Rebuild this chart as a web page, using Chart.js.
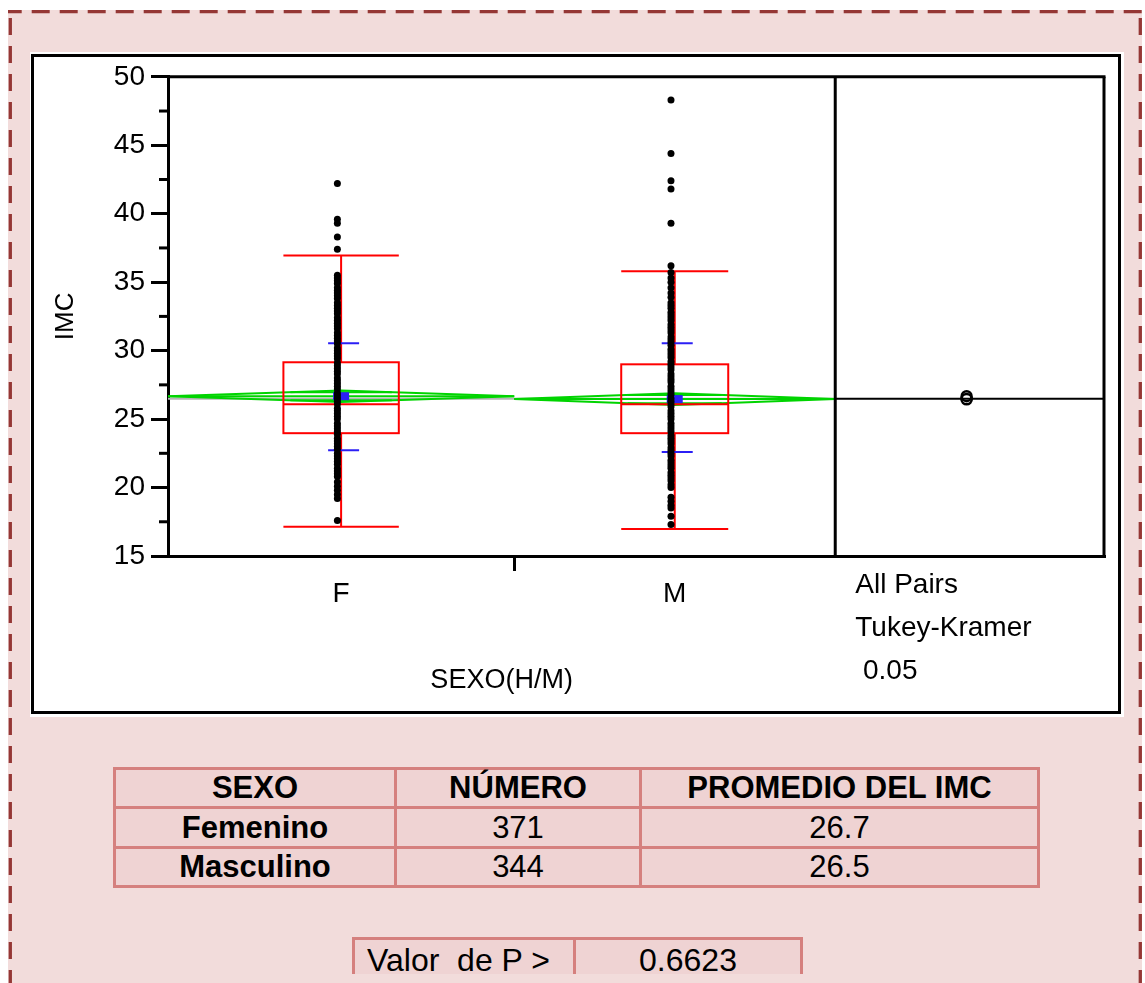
<!DOCTYPE html>
<html>
<head>
<meta charset="utf-8">
<script src="https://cdn.jsdelivr.net/npm/chart.js@4.4.1/dist/chart.umd.min.js"></script>
<style>
html,body{margin:0;padding:0;background:#fff;width:1145px;height:983px;overflow:hidden;font-family:"Liberation Sans",Arial,sans-serif;}
#bg{position:absolute;left:0;top:0}
#panel{position:absolute;left:30px;top:52px;width:1094px;height:665px;background:#fff}
#frame{position:absolute;left:31px;top:54px;width:1084px;height:654px;border:3px solid #000}
#c{position:absolute;left:34px;top:54px}
.grid{position:absolute;display:grid;gap:3px;background:#d5807e;padding:3px;}
.grid div{background:#efd3d3;color:#000;font-size:31px;display:flex;align-items:center;justify-content:center;white-space:pre;}
#t1{left:113px;top:767px;grid-template-columns:278px 242px 395px;grid-template-rows:36px 37px 36px;}
#t1 .b{font-weight:bold}
#t2{left:352px;top:937px;padding-bottom:0;grid-template-columns:218px 224px;grid-template-rows:34px;}
#t2 div{align-items:flex-start;line-height:40px;overflow:hidden;font-size:32px}
#t2 .l{justify-content:flex-start;padding-left:12px}
</style>
</head>
<body>
<svg id="bg" width="1145" height="983">
  <rect x="8" y="10" width="1134" height="980" fill="#f2dcdb"/>
  <line x1="8" y1="11.7" x2="1142" y2="11.7" stroke="#953735" stroke-width="3.3" stroke-dasharray="18 10" stroke-dashoffset="4.3"/>
  <line x1="10.3" y1="10" x2="10.3" y2="990" stroke="#953735" stroke-width="3.3" stroke-dasharray="17 11" stroke-dashoffset="20"/>
  <line x1="1140.3" y1="10" x2="1140.3" y2="990" stroke="#953735" stroke-width="3.3" stroke-dasharray="17 11" stroke-dashoffset="20"/>
</svg>
<div id="panel"></div>
<div id="frame"></div>
<canvas id="c" width="1084" height="657"></canvas>
<div id="t1" class="grid"></div>
<div id="t2" class="grid"></div>
<script>
// ---------------- data ----------------
const categories = ['F', 'M'];
const groupLabels = ['Femenino', 'Masculino'];
const counts = [371, 344];
const means = [26.67, 26.46];
const sdLow = [22.73, 22.59];
const sdHigh = [30.54, 30.54];
const ci95 = [0.42, 0.43];
const q1 = [23.97, 23.97];
const medians = [26.09, 26.09];
const q3 = [29.15, 29.00];
const whiskerLow = [17.14, 16.97];
const whiskerHigh = [36.95, 35.79];
const compRadius = [0.36, 0.38];
const grandMean = 26.48;
const yMin = 15, yMax = 50, yStep = 5, yMinorStep = 2.5;
const xTitle = 'SEXO(H/M)';
const yTitle = 'IMC';
const compLabels = ['All Pairs', 'Tukey-Kramer', ' 0.05'];
const tableHeaders = ['SEXO', 'NÚMERO', 'PROMEDIO DEL IMC'];
const pLabel = 'Valor  de P >';
const pValue = '0.6623';

const imcF = [42.2, 39.6, 39.3, 38.3, 37.4,
  35.5, 35.3, 35.1, 34.9, 34.6, 34.4, 34.2, 34.0, 33.8, 33.5, 33.3, 33.1, 32.9, 32.7, 32.4,
  32.2, 32.0, 31.8, 31.6, 31.3, 31.1, 30.9, 30.7, 30.5, 30.2, 30.0, 29.8, 29.6, 29.4, 29.1,
  28.9, 28.7, 28.5, 28.3, 28.0, 27.8, 27.6, 27.4, 27.2, 26.9, 26.7, 26.5, 26.3, 26.1, 25.8,
  25.6, 25.4, 25.2, 25.0, 24.7, 24.5, 24.3, 24.1, 23.9, 23.6, 23.4, 23.2, 23.0, 22.8, 22.5,
  22.3, 22.1, 21.9, 21.7, 21.4, 21.2, 21.0, 20.8,
  20.4, 20.1, 19.8, 19.5, 19.2, 17.6];
const imcM = [48.3, 44.4, 42.4, 41.8, 39.3, 36.2,
  35.7, 35.3, 35.0, 34.6, 34.2, 33.9, 33.5,
  33.3, 33.1, 32.8, 32.6, 32.4, 32.2, 31.9, 31.7, 31.5, 31.3, 31.0, 30.8, 30.6, 30.4, 30.1,
  29.9, 29.7, 29.5, 29.2, 29.0, 28.8, 28.6, 28.3, 28.1, 27.9, 27.7, 27.4, 27.2, 27.0, 26.8,
  26.5, 26.3, 26.1, 25.9, 25.6, 25.4, 25.2, 25.0, 24.7, 24.5, 24.3, 24.1, 23.8, 23.6, 23.4,
  23.2, 22.9, 22.7, 22.5, 22.3, 22.0, 21.8, 21.6, 21.4, 21.1, 20.9, 20.7, 20.5, 20.2, 20.0,
  19.3, 19.0, 18.7, 18.5, 17.9, 17.3];
const imcValues = [imcF, imcM];

// ---------------- tables ----------------
const t1 = document.getElementById('t1');
const addCell = (el, txt, cls) => { const d = document.createElement('div'); d.textContent = txt; if (cls) d.className = cls; el.appendChild(d); };
tableHeaders.forEach(h => addCell(t1, h, 'b'));
groupLabels.forEach((g, i) => { addCell(t1, g, 'b'); addCell(t1, String(counts[i])); addCell(t1, means[i].toFixed(1)); });
const t2 = document.getElementById('t2');
addCell(t2, pLabel, 'l'); addCell(t2, pValue);

// ---------------- chart ----------------
const FONT = '"Liberation Sans", Arial, sans-serif';
Chart.defaults.font.family = FONT;
const totalN = counts.reduce((s, n) => s + n, 0);
const xMax = 1003;
const starts = counts.map((n, i) => counts.slice(0, i).reduce((s, v) => s + v, 0));
const centers = counts.map((n, i) => starts[i] + n / 2);
const dotShift = -4;

const onewayPlugin = {
  id: 'oneway',
  beforeDatasetsDraw(chart) {
    const {ctx, chartArea: a, scales: {x, y}} = chart;
    const L = (x1, y1, x2, y2) => { ctx.beginPath(); ctx.moveTo(x1, y1); ctx.lineTo(x2, y2); ctx.stroke(); };
    ctx.save();
    ctx.beginPath(); ctx.rect(a.left, a.top, a.right - a.left, a.bottom - a.top); ctx.clip();
    const gy = y.getPixelForValue(grandMean);
    ctx.lineWidth = 2; ctx.strokeStyle = '#b4b4b4';
    L(a.left, gy, x.getPixelForValue(totalN), gy);
    counts.forEach((n, i) => {
      const x0 = x.getPixelForValue(starts[i]), x1 = x.getPixelForValue(starts[i] + n);
      const xc = (x0 + x1) / 2, w = x1 - x0;
      const ym = y.getPixelForValue(means[i]);
      const yt = y.getPixelForValue(means[i] + ci95[i]);
      const yb = y.getPixelForValue(means[i] - ci95[i]);
      // means diamond
      ctx.strokeStyle = '#00d400'; ctx.lineWidth = 2;
      ctx.beginPath(); ctx.moveTo(x0, ym); ctx.lineTo(xc, yt); ctx.lineTo(x1, ym); ctx.lineTo(xc, yb); ctx.closePath(); ctx.stroke();
      L(x0, ym, x1, ym);
      const k = Math.SQRT1_2, hw = (1 - k) * w / 2;
      [1, -1].forEach(s => { const yy = y.getPixelForValue(means[i] + s * k * ci95[i]); L(xc - hw, yy, xc + hw, yy); });
      // box
      const bw = w / 3;
      const yq1 = y.getPixelForValue(q1[i]), yq3 = y.getPixelForValue(q3[i]), ymed = y.getPixelForValue(medians[i]);
      const ywl = y.getPixelForValue(whiskerLow[i]), ywh = y.getPixelForValue(whiskerHigh[i]);
      ctx.strokeStyle = '#ff0000'; ctx.lineWidth = 2;
      ctx.strokeRect(xc - bw / 2, yq3, bw, yq1 - yq3);
      L(xc - bw / 2, ymed, xc + bw / 2, ymed);
      L(xc, yq3, xc, ywh); L(xc, yq1, xc, ywl);
      L(xc - bw / 2, ywh, xc + bw / 2, ywh); L(xc - bw / 2, ywl, xc + bw / 2, ywl);
      // mean and std dev
      ctx.strokeStyle = '#2b1ff5'; ctx.lineWidth = 2;
      const sh = y.getPixelForValue(sdHigh[i]), sl = y.getPixelForValue(sdLow[i]);
      L(xc - 13, sh, xc + 18, sh); L(xc - 13, sl, xc + 18, sl);
      ctx.fillStyle = '#2b1ff5';
      ctx.fillRect(xc - 8, ym - 4, 16, 8);
    });
    ctx.restore();
  },
  afterDatasetsDraw(chart) {
    const {ctx, chartArea: a, scales: {x, y}} = chart;
    const L = (x1, y1, x2, y2) => { ctx.beginPath(); ctx.moveTo(x1, y1); ctx.lineTo(x2, y2); ctx.stroke(); };
    ctx.save();
    ctx.strokeStyle = '#000';
    ctx.lineWidth = 3;
    L(a.left, a.top, a.right + 1.5, a.top);
    L(a.right, a.top, a.right, a.bottom + 1.5);
    const xs = x.getPixelForValue(totalN);
    L(xs, a.top, xs, a.bottom);
    // minor ticks
    y.ticks.forEach(t => {
      if (t.value + yMinorStep < yMax) {
        const py = y.getPixelForValue(t.value + yMinorStep);
        L(a.left - 9, py, a.left, py);
      }
    });
    // comparison panel
    ctx.lineWidth = 2;
    const gy = y.getPixelForValue(grandMean);
    L(xs, gy, a.right, gy);
    const cx = x.getPixelForValue((totalN + xMax) / 2) - 3;
    means.forEach((m, i) => {
      const cy = y.getPixelForValue(m);
      const r = Math.abs(y.getPixelForValue(m + compRadius[i]) - cy);
      ctx.lineWidth = 2.5;
      ctx.beginPath(); ctx.arc(cx, cy, r, 0, Math.PI * 2); ctx.stroke();
    });
    // texts
    ctx.fillStyle = '#000';
    ctx.font = '27px ' + FONT;
    ctx.textBaseline = 'alphabetic';
    ctx.textAlign = 'center';
    ctx.fillText(xTitle, x.getPixelForValue(totalN / 2), a.bottom + 132);
    ctx.textAlign = 'left';
    ctx.font = '28px ' + FONT;
    compLabels.forEach((t, i) => ctx.fillText(t, xs + 20, a.bottom + 37 + i * 43));
    ctx.restore();
  }
};

const labelFor = v => { const i = centers.indexOf(v); return i >= 0 ? categories[i] : ''; };

new Chart(document.getElementById('c'), {
  type: 'scatter',
  data: {
    datasets: categories.map((c, i) => ({
      label: c,
      data: imcValues[i].map(v => ({x: centers[i] + dotShift, y: v})),
      backgroundColor: '#000',
      borderWidth: 0,
      pointRadius: 3.5,
      pointHoverRadius: 3.5
    }))
  },
  options: {
    responsive: false,
    animation: false,
    devicePixelRatio: 1,
    events: [],
    layout: {padding: {top: 16, right: 14, left: 0, bottom: 0}},
    plugins: {legend: {display: false}, tooltip: {enabled: false}},
    scales: {
      x: {
        type: 'linear', position: 'bottom', min: 0, max: xMax,
        afterBuildTicks: s => { s.ticks = [{value: centers[0]}, {value: starts[1]}, {value: centers[1]}]; },
        ticks: {autoSkip: false, maxRotation: 0, padding: 6, font: {size: 28}, color: '#000', callback: v => labelFor(v)},
        grid: {drawOnChartArea: false, tickLength: 15, lineWidth: 3,
               color: c => (c.tick && c.tick.value === starts[1]) ? '#000' : 'rgba(0,0,0,0)'},
        border: {display: true, color: '#000', width: 3},
        afterFit: s => { s.height = 155; }
      },
      y: {
        type: 'linear', position: 'left', min: yMin, max: yMax,
        ticks: {stepSize: yStep, padding: 6, font: {size: 28}, color: '#000'},
        grid: {drawOnChartArea: false, tickLength: 17, lineWidth: 3, color: '#000'},
        border: {display: true, color: '#000', width: 3},
        title: {display: true, text: yTitle, color: '#000', font: {size: 26}, padding: {top: 16, bottom: 0}},
        afterFit: s => { s.width = 134; }
      }
    }
  },
  plugins: [onewayPlugin]
});
</script>
</body>
</html>
